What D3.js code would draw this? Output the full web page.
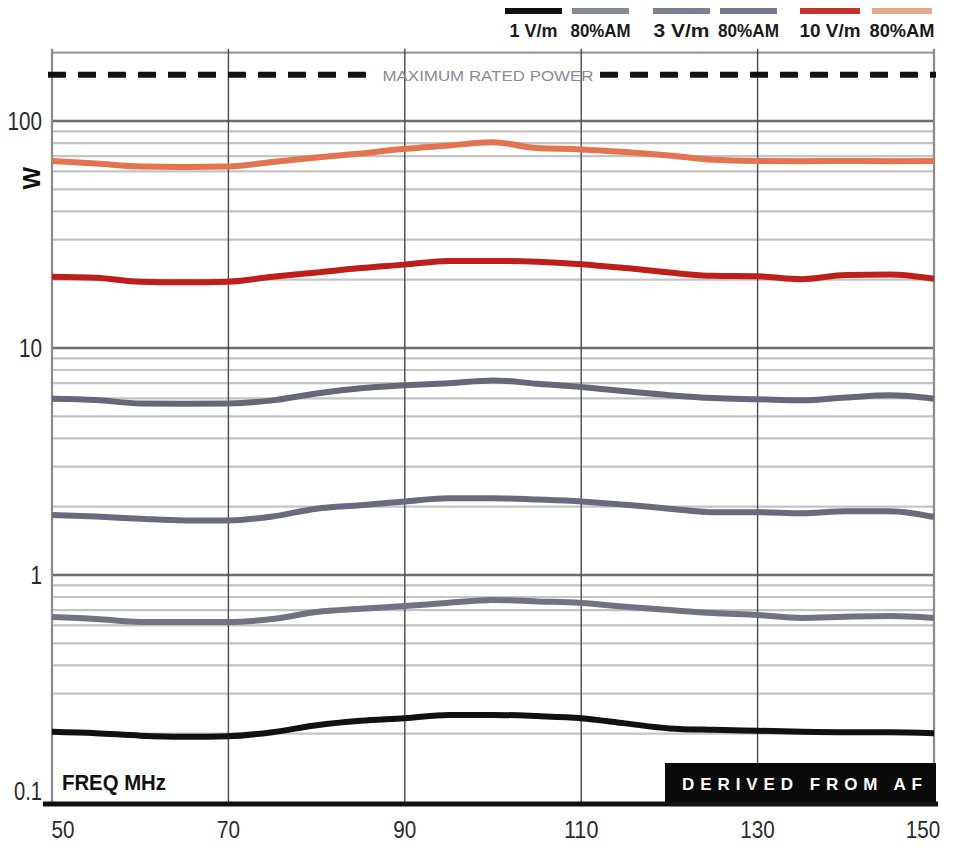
<!DOCTYPE html>
<html>
<head>
<meta charset="utf-8">
<script src="https://cdn.jsdelivr.net/npm/d3@7"></script>
<style>
  html, body { margin: 0; padding: 0; background: #fff; }
  svg { display: block; }
  .narrow { font-family: "Liberation Sans Narrow", "Arial Narrow", "Liberation Sans", sans-serif; }
</style>
</head>
<body>
<svg id="chart" width="953" height="847"></svg>
<script>
// ---------------- DATA ----------------
const freqs = [50,55,60,65,70,75,80,85,90,95,100,105,110,115,120,125,130,135,140,145,150];

const s1Vm      = [0.204,0.201,0.196,0.194,0.195,0.203,0.218,0.228,0.234,0.242,0.242,0.239,0.234,0.222,0.211,0.208,0.206,0.204,0.203,0.203,0.201];
const s1Vm80AM  = [0.653,0.640,0.621,0.621,0.621,0.640,0.687,0.710,0.730,0.755,0.776,0.765,0.753,0.725,0.701,0.680,0.667,0.647,0.655,0.660,0.647];
const s3Vm      = [1.84,1.81,1.77,1.74,1.74,1.81,1.96,2.03,2.11,2.18,2.18,2.15,2.11,2.04,1.96,1.89,1.89,1.87,1.91,1.91,1.80];
const s3Vm80AM  = [5.98,5.90,5.70,5.68,5.70,5.88,6.30,6.65,6.85,7.00,7.20,6.96,6.73,6.45,6.20,6.02,5.95,5.88,6.05,6.19,5.98];
const s10Vm     = [20.6,20.4,19.6,19.5,19.6,20.6,21.5,22.5,23.3,24.2,24.2,24.0,23.4,22.5,21.5,20.8,20.7,20.1,21.0,21.1,20.2];
const s10Vm80AM = [66.7,65.0,63.0,62.7,63.0,66.0,69.0,72.0,75.5,78.0,80.7,76.0,75.0,73.0,70.5,67.5,66.7,66.5,66.7,66.5,66.7];

const seriesNames  = ["1 V/m","80%AM","3 V/m","80%AM","10 V/m","80%AM"];
const seriesValues = [s1Vm, s1Vm80AM, s3Vm, s3Vm80AM, s10Vm, s10Vm80AM];
const seriesColors = ["#111111","#6f7384","#676b7d","#646879","#bf1f1b","#e4734f"];
const legendColors = ["#111111","#868a98","#7c8090","#767a8c","#c9302a","#eba58a"];

const maxRatedPower = 160;
const maxRatedLabel = "MAXIMUM RATED POWER";
const xTicks = [50,70,90,110,130,150];
const yTicks = [0.1,1,10,100];
const yTickLabels = ["0.1","1","10","100"];
const yDomain = [0.1, 200];
const xDomain = [50, 150];
const yAxisTitle = "W";
const xAxisTitle = "FREQ  MHz";
const badgeText = "DERIVED FROM AF";

// ---------------- LAYOUT ----------------
const svg = d3.select("#chart");
const L = 52, R = 934, T = 52.7, B = 802;
const x = d3.scaleLinear().domain(xDomain).range([L, R]);
const y = d3.scaleLog().domain(yDomain).range([B, T]);

// narrow digit width helper (condensed look)
const numW = s => s.split("").reduce((a, c) => a + (c === "." ? 5 : 11.5), 0);

const g = svg.append("g");

// minor horizontal grid
const minor = y.ticks().filter(v => Math.abs(Math.log10(v) - Math.round(Math.log10(v))) > 1e-6);
g.append("g").selectAll("line").data(minor).join("line")
  .attr("x1", L).attr("x2", R)
  .attr("y1", d => y(d)).attr("y2", d => y(d))
  .attr("stroke", d => d === 200 ? "#9a9a9a" : "#c4c4c4")
  .attr("stroke-width", 2.2);

// major horizontal grid
g.append("g").selectAll("line").data(yTicks.filter(v => v > yDomain[0])).join("line")
  .attr("x1", L).attr("x2", R)
  .attr("y1", d => y(d)).attr("y2", d => y(d))
  .attr("stroke", "#6e6e70")
  .attr("stroke-width", 2.4);

// vertical grid
g.append("g").selectAll("line").data(xTicks).join("line")
  .attr("x1", d => x(d)).attr("x2", d => x(d))
  .attr("y1", T - 4).attr("y2", B)
  .attr("stroke", d => (d === xDomain[0] || d === xDomain[1]) ? "#8a8a8a" : "#4a4a4a")
  .attr("stroke-width", d => (d === xDomain[0] || d === xDomain[1]) ? 2.2 : 1.4);

// max rated power dashed line with label gap
const mrY = y(maxRatedPower);
const mrLabelX = (x(90) + x(110)) / 2 - 5;
const gapHalf = 112;
[[L - 4, mrLabelX - gapHalf], [mrLabelX + gapHalf, R + 2]].forEach(([a, b]) => {
  g.append("line")
    .attr("x1", a).attr("x2", b).attr("y1", mrY).attr("y2", mrY)
    .attr("stroke", "#111").attr("stroke-width", 6)
    .attr("stroke-dasharray", "18,12");
});
g.append("text").attr("class", "narrow")
  .attr("x", mrLabelX).attr("y", mrY + 6)
  .attr("text-anchor", "middle")
  .attr("font-size", 15).attr("fill", "#8a8a92")
  .attr("textLength", 211).attr("lengthAdjust", "spacingAndGlyphs")
  .text(maxRatedLabel);

// series lines
const line = d3.line()
  .x((d, i) => x(freqs[i]))
  .y(d => y(d))
  .curve(d3.curveMonotoneX);
g.append("g").selectAll("path").data(seriesValues).join("path")
  .attr("d", d => line(d))
  .attr("fill", "none")
  .attr("stroke", (d, i) => seriesColors[i])
  .attr("stroke-width", 6)
  .attr("stroke-linejoin", "round");

// bottom axis line
g.append("line")
  .attr("x1", 43).attr("x2", R + 4)
  .attr("y1", B + 2).attr("y2", B + 2)
  .attr("stroke", "#111").attr("stroke-width", 5);

// x tick labels
g.append("g").selectAll("text").data(xTicks).join("text")
  .attr("class", "narrow")
  .attr("x", d => d === xDomain[0] ? x(d) + 11 : d === xDomain[1] ? x(d) - 11 : x(d))
  .attr("y", 838)
  .attr("text-anchor", "middle")
  .attr("font-size", 24).attr("fill", "#2a2a2a")
  .attr("textLength", d => numW(String(d))).attr("lengthAdjust", "spacingAndGlyphs")
  .text(d => d);

// y tick labels
g.append("g").selectAll("text").data(yTicks).join("text")
  .attr("class", "narrow")
  .attr("x", 42)
  .attr("y", (d, i) => i === 0 ? y(d) - 2 : y(d) + 9)
  .attr("text-anchor", "end")
  .attr("font-size", 25).attr("fill", "#2a2a2a")
  .attr("textLength", (d, i) => numW(yTickLabels[i])).attr("lengthAdjust", "spacingAndGlyphs")
  .text((d, i) => yTickLabels[i]);

// y axis title (rotated W)
g.append("text")
  .attr("class", "narrow")
  .attr("transform", `translate(40,${y(56)}) rotate(-90)`)
  .attr("text-anchor", "middle")
  .attr("font-size", 24).attr("font-weight", "bold").attr("fill", "#111")
  .text(yAxisTitle);

// x axis title
g.append("text")
  .attr("class", "narrow")
  .attr("x", 62).attr("y", 790)
  .attr("font-size", 22).attr("font-weight", "bold").attr("fill", "#111")
  .attr("textLength", 104).attr("lengthAdjust", "spacingAndGlyphs")
  .text(xAxisTitle);

// badge
g.append("rect")
  .attr("x", 665).attr("y", 763).attr("width", R + 2 - 665).attr("height", B - 763)
  .attr("fill", "#0a0a0a");
g.append("text")
  .attr("x", 682).attr("y", 790)
  .attr("font-family", "'Liberation Sans', Arial, sans-serif")
  .attr("font-size", 17).attr("font-weight", "bold").attr("fill", "#fff")
  .attr("textLength", 240).attr("lengthAdjust", "spacing")
  .text(badgeText);

// legend
const legendX = [505, 572, 653, 720, 800, 872];
const legendW = [57, 57, 57, 57, 60, 60];
const legendTextW = [48, 60, 56, 61, 61, 65];
const lg = svg.append("g");
seriesNames.forEach((name, i) => {
  lg.append("rect")
    .attr("x", legendX[i]).attr("y", 8)
    .attr("width", legendW[i]).attr("height", 6)
    .attr("fill", legendColors[i]);
  lg.append("text")
    .attr("class", "narrow")
    .attr("x", legendX[i] + legendW[i] / 2).attr("y", 37)
    .attr("text-anchor", "middle")
    .attr("font-size", 19).attr("font-weight", "bold").attr("fill", "#1a1a1a")
    .attr("textLength", legendTextW[i]).attr("lengthAdjust", "spacingAndGlyphs")
    .text(name);
});
</script>
</body>
</html>
